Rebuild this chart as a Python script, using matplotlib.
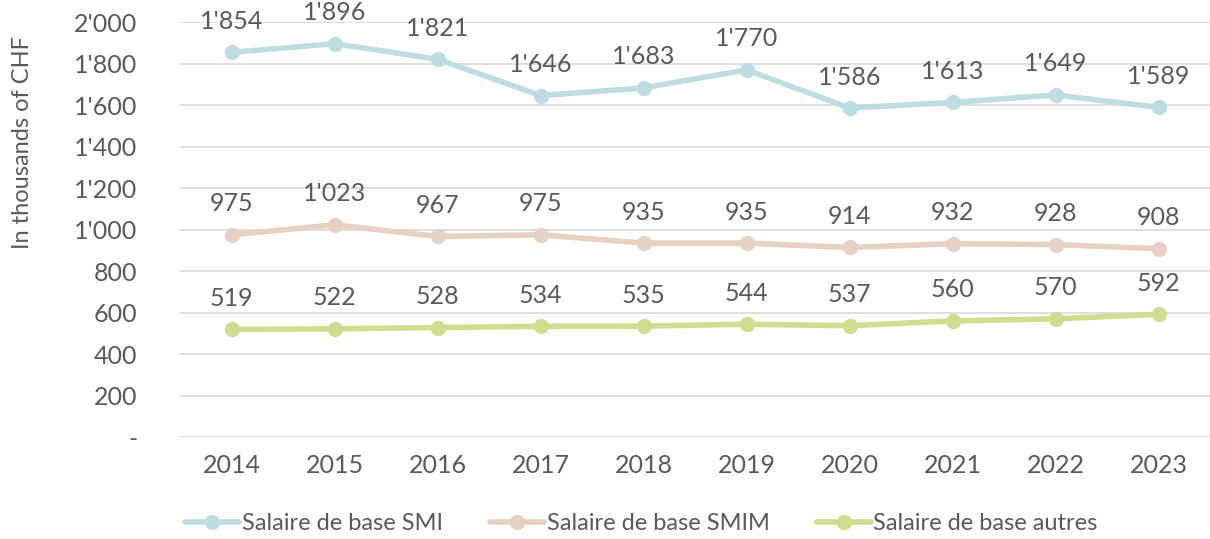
import matplotlib.pyplot as plt
from matplotlib.ticker import FuncFormatter

plt.rcParams['font.family'] = ['Lato', 'DejaVu Sans']

years = [2014, 2015, 2016, 2017, 2018, 2019, 2020, 2021, 2022, 2023]
smi = [1854, 1896, 1821, 1646, 1683, 1770, 1586, 1613, 1649, 1589]
smim = [975, 1023, 967, 975, 935, 935, 914, 932, 928, 908]
autres = [519, 522, 528, 534, 535, 544, 537, 560, 570, 592]

series = [
    ("Salaire de base SMI", smi, "#bddde3"),
    ("Salaire de base SMIM", smim, "#e6d1c2"),
    ("Salaire de base autres", autres, "#d2dc8e"),
]

text_color = "#595959"


def fmt(v, pos=None):
    if v == 0:
        return "-"
    return f"{int(v):,}".replace(",", "'")


fig = plt.figure(figsize=(12.1, 5.39), dpi=100)
ax = fig.add_axes([0.149, 0.189, 0.851, 0.77])

x = list(range(len(years)))
for name, vals, col in series:
    ax.plot(x, vals, color=col, lw=4, marker="o", ms=10, label=name,
            solid_capstyle="round")
    for xi, v in zip(x, vals):
        ax.annotate(fmt(v), (xi, v), xytext=(0, 14), textcoords="offset points",
                    ha="center", va="bottom", fontsize=18, color=text_color)

ax.set_ylim(0, 2000)
ax.set_xlim(-0.5, 9.5)
ax.set_yticks(range(0, 2001, 200))
ax.yaxis.set_major_formatter(FuncFormatter(fmt))
ax.set_xticks(x)
ax.set_xticklabels([str(y) for y in years])
ax.tick_params(axis="both", length=0, labelsize=18, labelcolor=text_color)
ax.tick_params(axis="x", pad=12)
ax.tick_params(axis="y", pad=31)
ax.grid(axis="y", color="#d9d9d9", lw=1.2)
ax.set_axisbelow(True)
for s in ax.spines.values():
    s.set_visible(False)

ax.set_ylabel("In thousands of CHF", fontsize=17, color=text_color)
ax.yaxis.set_label_coords(-0.143, 0.71)

fig.legend(loc="lower center", bbox_to_anchor=(0.53, -0.03), ncol=3,
           frameon=False, fontsize=17, labelcolor=text_color,
           handlelength=2.3, handletextpad=0.1, columnspacing=2.0)

fig.savefig("out.png", dpi=100)
